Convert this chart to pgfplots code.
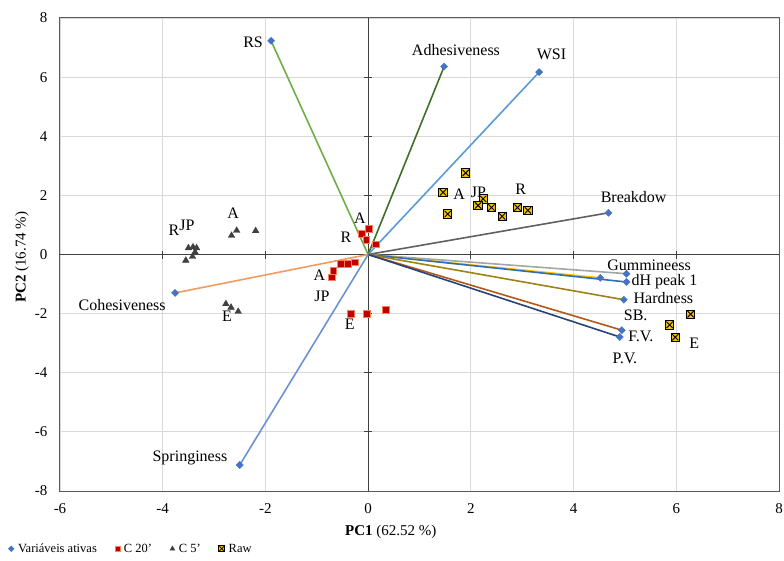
\documentclass[border=0pt]{standalone}
\usepackage{fontspec}
\setmainfont{Liberation Serif}
\usepackage{pgfplots}
\pgfplotsset{compat=1.18}
\definecolor{dblue}{HTML}{4472C4}
\definecolor{gridgray}{HTML}{D9D9D9}
\definecolor{framegray}{HTML}{595959}
\definecolor{zerogray}{HTML}{404040}
\definecolor{cRS}{HTML}{70AD47}
\definecolor{cAdh}{HTML}{3F6F2A}
\definecolor{cWSI}{HTML}{5B9BD5}
\definecolor{cBrk}{HTML}{606060}
\definecolor{cGum}{HTML}{A5A5A5}
\definecolor{cYel}{HTML}{FFC000}
\definecolor{cDH}{HTML}{2F6EB5}
\definecolor{cHard}{HTML}{A08210}
\definecolor{cSB}{HTML}{B3581B}
\definecolor{cFV}{HTML}{264478}
\definecolor{cCoh}{HTML}{F29B5F}
\definecolor{cSpr}{HTML}{6A93D6}
\definecolor{cRed}{HTML}{C00000}
\definecolor{cRedB}{HTML}{FF7F50}
\definecolor{cTri}{HTML}{404040}
\definecolor{cRaw}{HTML}{F2C200}
\pgfdeclareplotmark{boxx}{%
  \pgfpathrectangle{\pgfqpoint{-\pgfplotmarksize}{-\pgfplotmarksize}}{\pgfqpoint{2\pgfplotmarksize}{2\pgfplotmarksize}}%
  \pgfusepathqfillstroke
  \pgfpathmoveto{\pgfqpoint{-0.75\pgfplotmarksize}{-0.75\pgfplotmarksize}}%
  \pgfpathlineto{\pgfqpoint{0.75\pgfplotmarksize}{0.75\pgfplotmarksize}}%
  \pgfpathmoveto{\pgfqpoint{-0.75\pgfplotmarksize}{0.75\pgfplotmarksize}}%
  \pgfpathlineto{\pgfqpoint{0.75\pgfplotmarksize}{-0.75\pgfplotmarksize}}%
  \pgfusepathqstroke}
\newcommand{\lbl}{\fontsize{16}{18}\selectfont}
\begin{document}
\begin{tikzpicture}
\path[use as bounding box] (-60pt,-69pt) rectangle (724pt,491pt);
\begin{axis}[
  at={(0,0)}, anchor=south west,
  scale only axis, width=719pt, height=473pt,
  xmin=-6, xmax=8, ymin=-8, ymax=8,
  xtick={-6,-4,...,8}, ytick={-8,-6,...,8},
  grid=major, grid style={draw=gridgray, line width=0.8pt},
  axis line style={draw=framegray, line width=1pt},
  major tick length=0pt,
  tick label style={font=\fontsize{15}{17}\selectfont},
  /pgf/number format/assume math mode=true,
  xticklabel style={yshift=-9pt},
  yticklabel style={xshift=-9pt},
  clip=false,
  legend style={at={(axis description cs:-0.072,-0.122)}, anchor=west,
    draw=none, fill=none, legend columns=-1,
    font=\fontsize{12.5}{14}\selectfont,
    /tikz/every even column/.append style={column sep=16pt},
    /tikz/every odd column/.append style={column sep=2pt},
    inner sep=0pt},
  legend cell align=left,
  vec/.style={line width=1.6pt, mark=square*, mark indices={2}, mark size=2.5pt,
    mark options={draw=dblue, fill=dblue, solid, rotate=45, line width=0.4pt}, forget plot},
]
% zero axes
\draw[zerogray, line width=1.2pt] (axis cs:-6,0) -- (axis cs:8,0);
\draw[zerogray, line width=1.2pt] (axis cs:0,-8) -- (axis cs:0,8);
\pgfplotsinvokeforeach{-4,-2,2,4,6}{\draw[zerogray, line width=1.2pt] (axis cs:#1,0) ++(0pt,-4pt) -- ++(0pt,8pt);}
\pgfplotsinvokeforeach{-6,-4,-2,2,4,6}{\draw[zerogray, line width=1.2pt] (axis cs:0,#1) ++(-4pt,0pt) -- ++(8pt,0pt);}
% variable vectors
\addplot[vec, color=cRS]   coordinates {(0,0) (-1.89,7.23)};
\addplot[vec, color=cAdh]  coordinates {(0,0) (1.48,6.36)};
\addplot[vec, color=cWSI]  coordinates {(0,0) (3.33,6.17)};
\addplot[vec, color=cBrk]  coordinates {(0,0) (4.68,1.41)};
\addplot[vec, color=cGum]  coordinates {(0,0) (5.03,-0.65)};
\addplot[vec, color=cYel]  coordinates {(0,0) (4.52,-0.79)};
\addplot[vec, color=cDH]   coordinates {(0,0) (5.03,-0.93)};
\addplot[vec, color=cHard] coordinates {(0,0) (4.98,-1.53)};
\addplot[vec, color=cSB]   coordinates {(0,0) (4.94,-2.56)};
\addplot[vec, color=cFV]   coordinates {(0,0) (4.90,-2.79)};
\addplot[vec, color=cCoh]  coordinates {(0,0) (-3.76,-1.30)};
\addplot[vec, color=cSpr]  coordinates {(0,0) (-2.50,-7.12)};
% C 20'
\addplot[only marks, mark=square*, mark size=3.3pt, mark options={fill=cRed, draw=cRedB, line width=0.5pt}, forget plot] coordinates {
(0.01,0.87) (-0.12,0.70) (-0.04,0.50) (0.15,0.35) (-0.26,-0.26) (-0.40,-0.31)
(-0.53,-0.31) (-0.68,-0.55) (-0.71,-0.77) (-0.34,-2.01) (-0.03,-2.01) (0.34,-1.87)};
% C 5'
\addplot[only marks, mark=triangle*, mark size=3.8pt, mark options={fill=cTri, draw=cTri}, forget plot] coordinates {
(-2.56,0.81) (-2.66,0.64) (-2.19,0.80) (-3.50,0.22) (-3.41,0.25) (-3.34,0.22)
(-3.37,0.08) (-3.42,-0.07) (-3.55,-0.20) (-2.77,-1.67) (-2.67,-1.79) (-2.53,-1.93)};
% Raw
\addplot[only marks, mark=boxx, mark size=4.2pt, mark options={fill=cRaw, draw=black, line width=0.9pt}, forget plot] coordinates {
(1.90,2.76) (1.46,2.10) (1.55,1.37) (2.24,1.88) (2.14,1.66) (2.40,1.59)
(2.61,1.29) (2.91,1.59) (3.11,1.49) (6.28,-2.02) (5.87,-2.38) (5.98,-2.80)};
% legend
\addlegendimage{only marks, mark=square*, mark size=2pt, mark options={rotate=45, draw=dblue, fill=dblue}}
\addlegendentry{Variáveis ativas}
\addlegendimage{only marks, mark=square*, mark size=2.5pt, mark options={fill=cRed, draw=cRedB, line width=0.4pt}}
\addlegendentry{C 20'}
\addlegendimage{only marks, mark=triangle*, mark size=2.8pt, mark options={fill=cTri, draw=cTri}}
\addlegendentry{C 5'}
\addlegendimage{only marks, mark=boxx, mark size=3pt, mark options={fill=cRaw, draw=black, line width=0.7pt}}
\addlegendentry{Raw}
% variable labels
\node[font=\lbl] at (axis cs:-2.24,7.17) {RS};
\node[font=\lbl] at (axis cs:1.71,6.93) {Adhesiveness};
\node[font=\lbl] at (axis cs:3.57,6.78) {WSI};
\node[font=\lbl] at (axis cs:5.17,1.95) {Breakdow};
\node[font=\lbl] at (axis cs:5.47,-0.35) {Gummineess};
\node[font=\lbl] at (axis cs:5.77,-0.91) {dH peak 1};
\node[font=\lbl] at (axis cs:5.75,-1.48) {Hardness};
\node[font=\lbl] at (axis cs:5.21,-2.06) {SB.};
\node[font=\lbl] at (axis cs:5.31,-2.78) {F.V.};
\node[font=\lbl] at (axis cs:5.00,-3.51) {P.V.};
\node[font=\lbl] at (axis cs:-4.79,-1.70) {Cohesiveness};
\node[font=\lbl] at (axis cs:-3.47,-6.89) {Springiness};
% sample labels
\node[font=\lbl] at (axis cs:-2.63,1.38) {A};
\node[font=\lbl] at (axis cs:-3.78,0.81) {R};
\node[font=\lbl] at (axis cs:-3.53,0.98) {JP};
\node[font=\lbl] at (axis cs:-2.75,-2.10) {E};
\node[font=\lbl] at (axis cs:-0.16,1.23) {A};
\node[font=\lbl] at (axis cs:-0.43,0.59) {R};
\node[font=\lbl] at (axis cs:-0.95,-0.71) {A};
\node[font=\lbl] at (axis cs:-0.90,-1.40) {JP};
\node[font=\lbl] at (axis cs:-0.36,-2.35) {E};
\node[font=\lbl] at (axis cs:1.77,2.05) {A};
\node[font=\lbl] at (axis cs:2.15,2.11) {JP};
\node[font=\lbl] at (axis cs:2.97,2.19) {R};
\node[font=\lbl] at (axis cs:6.35,-3.00) {E};
% axis titles
\node[font=\fontsize{15}{17}\selectfont] at (axis description cs:0.46,-0.087) {\textbf{PC1} (62.52 \%)};
\node[font=\fontsize{15}{17}\selectfont, rotate=90] at (axis description cs:-0.053,0.494) {\textbf{PC2} (16.74 \%)};
\end{axis}
\end{tikzpicture}
\end{document}
